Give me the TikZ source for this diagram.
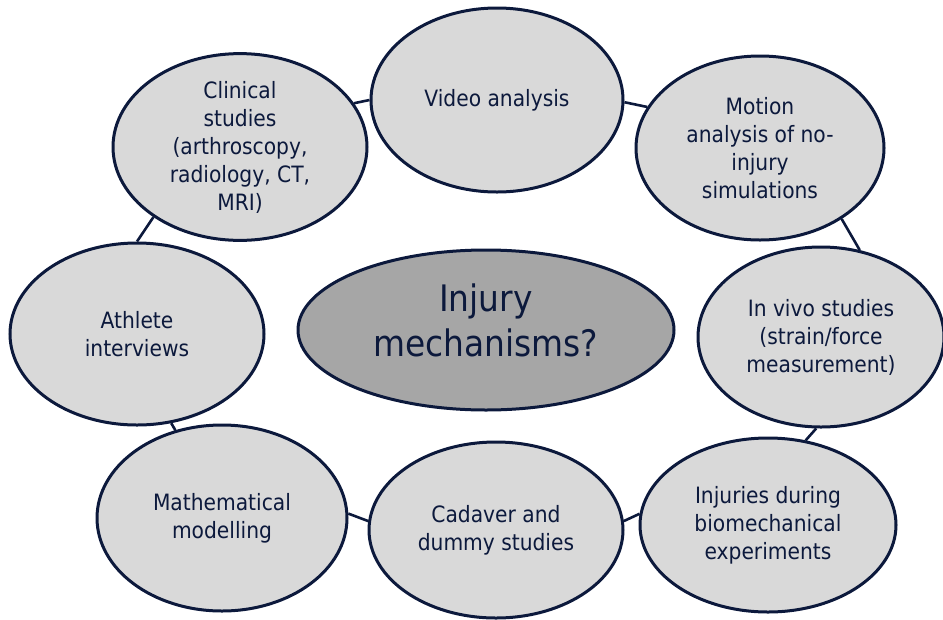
\documentclass[tikz,border=0pt]{standalone}
\usepackage{fontspec}
\setmainfont{DejaVu Sans Condensed}
\usetikzlibrary{shapes.geometric}
\definecolor{navy}{RGB}{12,25,60}
\definecolor{lightgrey}{RGB}{217,217,217}
\definecolor{midgrey}{RGB}{166,166,166}
\tikzset{
  topic/.style = {ellipse, draw = navy, line width = 3pt, fill = lightgrey,
    text = navy, inner sep = 0pt, align = center,
    font = \fontsize{22.5}{28}\selectfont},
  hub/.style = {topic, fill = midgrey, text depth = 20pt,
    font = \fontsize{36.5}{45}\selectfont},
  link/.style = {draw = navy, line width = 2.6pt}
}

\begin{document}
\begin{tikzpicture}[x = 1pt, y = -1pt]
\useasboundingbox (0,0) rectangle (943,619);

\node[hub, minimum width = 376pt, minimum height = 160pt] (hub) at (486,330) {Injury\\mechanisms?};

\node[topic, minimum width = 252pt, minimum height = 184pt] (video) at (497,100) {Video analysis};
\node[topic, minimum width = 254pt, minimum height = 184pt] (clinical) at (240,147) {Clinical\\studies\\(arthroscopy,\\radiology, CT,\\MRI)};
\node[topic, minimum width = 248pt, minimum height = 184pt] (motion) at (760,148) {Motion\\analysis of no-\\injury\\simulations};
\node[topic, minimum width = 254pt, minimum height = 182pt] (athlete) at (137,334) {Athlete\\interviews};
\node[topic, minimum width = 246pt, minimum height = 180pt] (invivo) at (821,337) {In vivo studies\\(strain/force\\measurement)};
\node[topic, minimum width = 250pt, minimum height = 186pt] (maths) at (222,518) {Mathematical\\modelling};
\node[topic, minimum width = 254pt, minimum height = 176pt] (cadaver) at (496,530) {Cadaver and\\dummy studies};
\node[topic, minimum width = 256pt, minimum height = 174pt] (experiments) at (768,525) {Injuries during\\biomechanical\\experiments};

% ring of links round the hub
\draw[link] (clinical.21) -- (video.180);
\draw[link] (video.359) -- (motion.160);
\draw[link] (motion.319) -- (invivo.66);
\draw[link] (invivo.267) -- (experiments.66);
\draw[link] (experiments.175) -- (cadaver.4);
\draw[link] (cadaver.176) -- (maths.2);
\draw[link] (maths.118) -- (athlete.291);
\draw[link] (athlete.90) -- (clinical.219);

\end{tikzpicture}
\end{document}
